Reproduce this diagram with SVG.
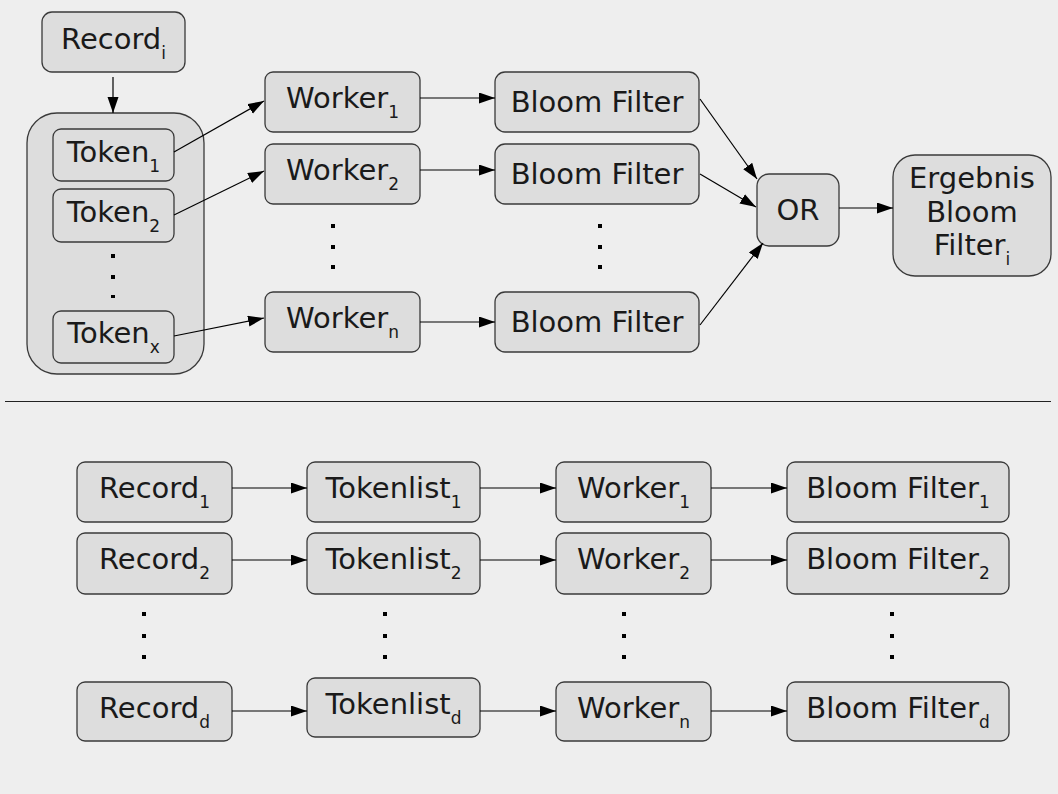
<svg xmlns="http://www.w3.org/2000/svg" width="1058" height="794" viewBox="0 0 1058 794">
<style>
.n{fill:#dddddd;stroke:#3a3a3a;stroke-width:1.3}
.t{font-family:"DejaVu Sans",sans-serif;font-size:29px;fill:#1a1a1a;text-anchor:middle}
.s{font-size:17px}
.c{fill:none;stroke:#000;stroke-width:1.2}
.d{fill:#000}
</style>
<defs>
<marker id="a" markerUnits="userSpaceOnUse" markerWidth="17" markerHeight="12" refX="16" refY="5.5" orient="auto">
<path d="M0,0 L16,5.5 L0,11 z" fill="#000"/>
</marker>
</defs>
<rect width="1058" height="794" fill="#eeeeee"/>
<g id="top">
<g id="record_i"><rect class="n" x="42" y="12" width="143" height="60" rx="10"/><text class="t" x="113.5" y="49">Record<tspan class="s" dy="10">i</tspan></text></g>
<g id="tokens"><rect class="n" x="27" y="113" width="177" height="261" rx="30"/>
<g id="token1"><rect class="n" x="53" y="129" width="121" height="52" rx="8"/><text class="t" x="113.5" y="162">Token<tspan class="s" dy="10">1</tspan></text></g>
<g id="token2"><rect class="n" x="53" y="189" width="121" height="53" rx="8"/><text class="t" x="113.5" y="222">Token<tspan class="s" dy="10">2</tspan></text></g>
<g id="tokenx"><rect class="n" x="53" y="311" width="121" height="52" rx="8"/><text class="t" x="113.5" y="343">Token<tspan class="s" dy="10">x</tspan></text></g>
<rect class="d" x="111" y="254" width="4" height="4"/><rect class="d" x="111" y="275" width="4" height="4"/><rect class="d" x="111" y="295" width="4" height="3"/>
</g>
<g id="worker1"><rect class="n" x="265" y="72" width="155" height="60" rx="8"/><text class="t" x="342.5" y="108">Worker<tspan class="s" dy="10">1</tspan></text></g>
<g id="worker2"><rect class="n" x="265" y="144" width="155" height="60" rx="8"/><text class="t" x="342.5" y="180">Worker<tspan class="s" dy="10">2</tspan></text></g>
<g id="workern"><rect class="n" x="265" y="292" width="155" height="60" rx="8"/><text class="t" x="342.5" y="328">Worker<tspan class="s" dy="10">n</tspan></text></g>
<g id="wdots"><rect class="d" x="331" y="224" width="4" height="4"/><rect class="d" x="331" y="245" width="4" height="4"/><rect class="d" x="331" y="265" width="4" height="4"/></g>
<g id="bf1"><rect class="n" x="495" y="72" width="204" height="60" rx="10"/><text class="t" x="597" y="112">Bloom Filter</text></g>
<g id="bf2"><rect class="n" x="495" y="144" width="204" height="60" rx="10"/><text class="t" x="597" y="184">Bloom Filter</text></g>
<g id="bf3"><rect class="n" x="495" y="292" width="204" height="60" rx="10"/><text class="t" x="597" y="332">Bloom Filter</text></g>
<g id="bfdots"><rect class="d" x="598" y="224" width="4" height="4"/><rect class="d" x="598" y="245" width="4" height="4"/><rect class="d" x="598" y="265" width="4" height="4"/></g>
<g id="or"><rect class="n" x="757" y="174" width="82" height="72" rx="12"/><text class="t" x="798" y="220">OR</text></g>
<g id="ergebnis"><rect class="n" x="893" y="155" width="158" height="121" rx="22"/>
<text class="t" x="972" y="188">Ergebnis</text><text class="t" x="972" y="222">Bloom</text><text class="t" x="972" y="255">Filter<tspan class="s" dy="10">i</tspan></text></g>
</g>
<line x1="5" y1="401.5" x2="1051" y2="401.5" stroke="#222222" stroke-width="1"/>
<g id="bottom">
<g id="rec1"><rect class="n" x="77" y="462" width="155" height="60" rx="8"/><text class="t" x="154.5" y="498">Record<tspan class="s" dy="10">1</tspan></text></g>
<g id="rec2"><rect class="n" x="77" y="533" width="155" height="61" rx="8"/><text class="t" x="154.5" y="569">Record<tspan class="s" dy="10">2</tspan></text></g>
<g id="recd"><rect class="n" x="77" y="682" width="155" height="59" rx="8"/><text class="t" x="154.5" y="718">Record<tspan class="s" dy="10">d</tspan></text></g>
<g id="recdots"><rect class="d" x="142" y="612" width="4" height="4"/><rect class="d" x="142" y="634" width="4" height="4"/><rect class="d" x="142" y="655" width="4" height="4"/></g>
<g id="tl1"><rect class="n" x="307" y="462" width="173" height="60" rx="8"/><text class="t" x="393.5" y="498">Tokenlist<tspan class="s" dy="10">1</tspan></text></g>
<g id="tl2"><rect class="n" x="307" y="533" width="173" height="61" rx="8"/><text class="t" x="393.5" y="569">Tokenlist<tspan class="s" dy="10">2</tspan></text></g>
<g id="tld"><rect class="n" x="307" y="678" width="173" height="59" rx="8"/><text class="t" x="393.5" y="714">Tokenlist<tspan class="s" dy="10">d</tspan></text></g>
<g id="tldots"><rect class="d" x="383" y="612" width="4" height="4"/><rect class="d" x="383" y="634" width="4" height="4"/><rect class="d" x="383" y="655" width="4" height="4"/></g>
<g id="bw1"><rect class="n" x="556" y="462" width="155" height="60" rx="8"/><text class="t" x="633.5" y="498">Worker<tspan class="s" dy="10">1</tspan></text></g>
<g id="bw2"><rect class="n" x="556" y="533" width="155" height="61" rx="8"/><text class="t" x="633.5" y="569">Worker<tspan class="s" dy="10">2</tspan></text></g>
<g id="bwn"><rect class="n" x="556" y="682" width="155" height="59" rx="8"/><text class="t" x="633.5" y="718">Worker<tspan class="s" dy="10">n</tspan></text></g>
<g id="bwdots"><rect class="d" x="622" y="612" width="4" height="4"/><rect class="d" x="622" y="634" width="4" height="4"/><rect class="d" x="622" y="655" width="4" height="4"/></g>
<g id="bbf1"><rect class="n" x="787" y="462" width="222" height="60" rx="8"/><text class="t" x="898" y="498">Bloom Filter<tspan class="s" dy="10">1</tspan></text></g>
<g id="bbf2"><rect class="n" x="787" y="533" width="222" height="61" rx="8"/><text class="t" x="898" y="569">Bloom Filter<tspan class="s" dy="10">2</tspan></text></g>
<g id="bbfd"><rect class="n" x="787" y="682" width="222" height="59" rx="8"/><text class="t" x="898" y="718">Bloom Filter<tspan class="s" dy="10">d</tspan></text></g>
<g id="bbfdots"><rect class="d" x="890" y="612" width="4" height="4"/><rect class="d" x="890" y="634" width="4" height="4"/><rect class="d" x="890" y="655" width="4" height="4"/></g>
</g>
<g id="connectors" class="c" marker-end="url(#a)">
<line x1="113" y1="77" x2="113" y2="113"/>
<line x1="174" y1="152" x2="264" y2="101"/>
<line x1="174" y1="215" x2="264" y2="171"/>
<line x1="174" y1="336" x2="264" y2="318"/>
<line x1="420" y1="98" x2="495" y2="98"/>
<line x1="420" y1="170" x2="495" y2="170"/>
<line x1="420" y1="322" x2="495" y2="322"/>
<line x1="700" y1="99" x2="757" y2="179"/>
<line x1="700" y1="174" x2="756" y2="207"/>
<line x1="700" y1="325" x2="763" y2="243"/>
<line x1="839" y1="208" x2="893" y2="208"/>
<line x1="232" y1="488" x2="307" y2="488"/>
<line x1="232" y1="560" x2="307" y2="560"/>
<line x1="232" y1="711" x2="307" y2="711"/>
<line x1="480" y1="488" x2="556" y2="488"/>
<line x1="480" y1="560" x2="556" y2="560"/>
<line x1="480" y1="711" x2="556" y2="711"/>
<line x1="711" y1="488" x2="787" y2="488"/>
<line x1="711" y1="560" x2="787" y2="560"/>
<line x1="711" y1="711" x2="787" y2="711"/>
</g>
</svg>
